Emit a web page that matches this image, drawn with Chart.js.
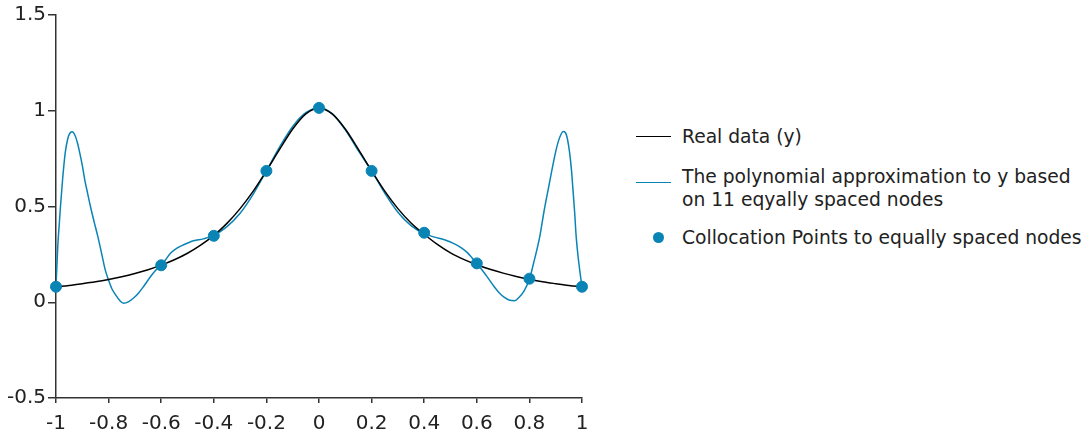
<!DOCTYPE html>
<html>
<head>
<meta charset="utf-8">
<script src="https://cdn.jsdelivr.net/npm/chart.js@4.4.1/dist/chart.umd.min.js"></script>
<style>
  body { margin: 0; background: #fff; }
  #wrap { position: relative; width: 1088px; height: 432px; font-family: "DejaVu Sans", sans-serif; color: #222; }
  #chart-1 { position: absolute; left: 0; top: 0; }
  .item { position: absolute; left: 682px; font-size: 18.7px; line-height: 23px; white-space: nowrap; }
  .swatch { position: absolute; left: 636px; width: 35px; height: 0; }
  .dot { position: absolute; left: 653px; width: 11px; height: 11px; border-radius: 50%; }
</style>
</head>
<body>
<div id="wrap">
  <canvas id="chart-1" width="600" height="432"></canvas>
  <div class="swatch" style="top:136px; border-top:1.5px solid #000;"></div>
  <div class="item" style="top:125px;">Real data (y)</div>
  <div class="swatch" style="top:182px; border-top:1.5px solid #0a84b5;"></div>
  <div class="item" style="top:165px;">The polynomial approximation to y based<br>on 11 eqyally spaced nodes</div>
  <div class="dot" style="top:232px; background:#0a84b5;"></div>
  <div class="item" style="top:226px;">Collocation Points to equally spaced nodes</div>
</div>
<script>
const BLUE = "#0a84b5";

// real data (y)
const realX = [-1, -0.95, -0.9, -0.85, -0.8, -0.75, -0.7, -0.65, -0.6, -0.55, -0.5, -0.45, -0.4, -0.35, -0.3, -0.25, -0.2, -0.15, -0.1, -0.05,
  0, 0.05, 0.1, 0.15, 0.2, 0.25, 0.3, 0.35, 0.4, 0.45, 0.5, 0.55, 0.6, 0.65, 0.7, 0.75, 0.8, 0.85, 0.9, 0.95, 1];
const realY = [0.081, 0.088, 0.097, 0.107, 0.119, 0.133, 0.15, 0.17, 0.194, 0.222, 0.256, 0.298, 0.349, 0.412, 0.489, 0.58, 0.686, 0.798, 0.905, 0.984,
  1.015, 0.984, 0.905, 0.798, 0.686, 0.58, 0.489, 0.414, 0.355, 0.302, 0.258, 0.224, 0.196, 0.172, 0.152, 0.135, 0.12, 0.107, 0.097, 0.088, 0.081];

// polynomial approximation
const polyX = [-1, -0.993, -0.988, -0.983, -0.975, -0.965, -0.955, -0.946, -0.938, -0.928, -0.918, -0.91, -0.9, -0.891, -0.88, -0.869, -0.855, -0.841, -0.825, -0.812,
  -0.8, -0.788, -0.774, -0.758, -0.743, -0.725, -0.705, -0.685, -0.667, -0.641, -0.62, -0.6, -0.58, -0.565, -0.54, -0.515, -0.477, -0.44, -0.4, -0.35,
  -0.3, -0.25, -0.2, -0.15, -0.1, -0.05, 0, 0.05, 0.1, 0.15, 0.2, 0.25, 0.3, 0.35, 0.4, 0.44, 0.477, 0.515, 0.54, 0.565,
  0.58, 0.6, 0.62, 0.641, 0.667, 0.685, 0.705, 0.725, 0.744, 0.76, 0.78, 0.8, 0.816, 0.839, 0.855, 0.873, 0.887, 0.899, 0.91, 0.92,
  0.928, 0.937, 0.945, 0.953, 0.96, 0.965, 0.972, 0.978, 0.985, 0.993, 1];
const polyY = [0.081, 0.3, 0.4, 0.5, 0.64, 0.78, 0.855, 0.885, 0.89, 0.872, 0.83, 0.782, 0.715, 0.642, 0.57, 0.5, 0.42, 0.344, 0.245, 0.165,
  0.115, 0.072, 0.04, 0.01, -0.005, 0.002, 0.022, 0.05, 0.082, 0.133, 0.168, 0.194, 0.228, 0.256, 0.283, 0.3, 0.321, 0.331, 0.349, 0.395,
  0.465, 0.565, 0.686, 0.81, 0.918, 0.99, 1.015, 0.985, 0.9, 0.79, 0.686, 0.57, 0.47, 0.4, 0.358, 0.34, 0.326, 0.305, 0.285, 0.258,
  0.235, 0.2, 0.168, 0.13, 0.08, 0.05, 0.025, 0.01, 0.008, 0.025, 0.06, 0.12, 0.205, 0.34, 0.47, 0.6, 0.7, 0.78, 0.84, 0.876,
  0.891, 0.885, 0.85, 0.78, 0.69, 0.6, 0.47, 0.34, 0.24, 0.15, 0.081];

// collocation points
const nodeX = [-1, -0.6, -0.4, -0.2, 0, 0.2, 0.4, 0.6, 0.8, 1];
const nodeY = [0.081, 0.193, 0.347, 0.686, 1.015, 0.686, 0.363, 0.203, 0.123, 0.081];

const xTicks = [-1, -0.8, -0.6, -0.4, -0.2, 0, 0.2, 0.4, 0.6, 0.8, 1];
const xTickLabels = ["-1", "-0.8", "-0.6", "-0.4", "-0.2", "0", "0.2", "0.4", "0.6", "0.8", "1"];
const yTicks = [-0.5, 0, 0.5, 1, 1.5];
const yTickLabels = ["-0.5", "0", "0.5", "1", "1.5"];

const pts = (xs, ys) => xs.map((x, i) => ({ x: x, y: ys[i] }));

const chart1Area = document.getElementById("chart-1");

const chart1 = new Chart(chart1Area, {
  type: "scatter",
  data: {
    datasets: [
      {
        label: "Collocation Points to equally spaced nodes",
        data: pts(nodeX, nodeY),
        backgroundColor: BLUE,
        borderColor: BLUE,
        pointRadius: 5.5,
        showLine: false,
        clip: false,
      },
      {
        label: "Real data (y)",
        data: pts(realX, realY),
        borderColor: "#000",
        borderWidth: 1.5,
        pointRadius: 0,
        showLine: true,
        cubicInterpolationMode: "monotone",
      },
      {
        label: "The polynomial approximation to y based on 11 eqyally spaced nodes",
        data: pts(polyX, polyY),
        borderColor: BLUE,
        borderWidth: 1.5,
        pointRadius: 0,
        showLine: true,
        cubicInterpolationMode: "monotone",
      },
    ],
  },
  options: {
    responsive: false,
    animation: false,
    layout: { padding: { top: 15, right: 18, left: 0, bottom: 0 } },
    plugins: { legend: { display: false }, tooltip: { enabled: false } },
    scales: {
      x: {
        type: "linear",
        min: -1,
        max: 1,
        afterBuildTicks: (s) => { s.ticks = xTicks.map((v) => ({ value: v })); },
        afterFit: (s) => { s.height = 34; },
        ticks: {
          callback: (v) => xTickLabels[xTicks.indexOf(v)],
          font: { family: "DejaVu Sans", size: 20 },
          color: "#222",
          padding: 9,
          maxRotation: 0,
          autoSkip: false,
        },
        grid: { drawOnChartArea: false, drawTicks: true, tickLength: 5, color: "#333", lineWidth: 1.5 },
        border: { display: true, color: "#333", width: 1.5 },
      },
      y: {
        min: -0.5,
        max: 1.5,
        afterBuildTicks: (s) => { s.ticks = yTicks.map((v) => ({ value: v })); },
        afterFit: (s) => { s.width = 56; },
        ticks: {
          callback: (v) => yTickLabels[yTicks.indexOf(v)],
          font: { family: "DejaVu Sans", size: 20 },
          color: "#222",
          padding: 2,
          autoSkip: false,
        },
        grid: { drawOnChartArea: false, drawTicks: true, tickLength: 8, color: "#333", lineWidth: 1.5 },
        border: { display: true, color: "#333", width: 1.5 },
      },
    },
  },
});
</script>
</body>
</html>
